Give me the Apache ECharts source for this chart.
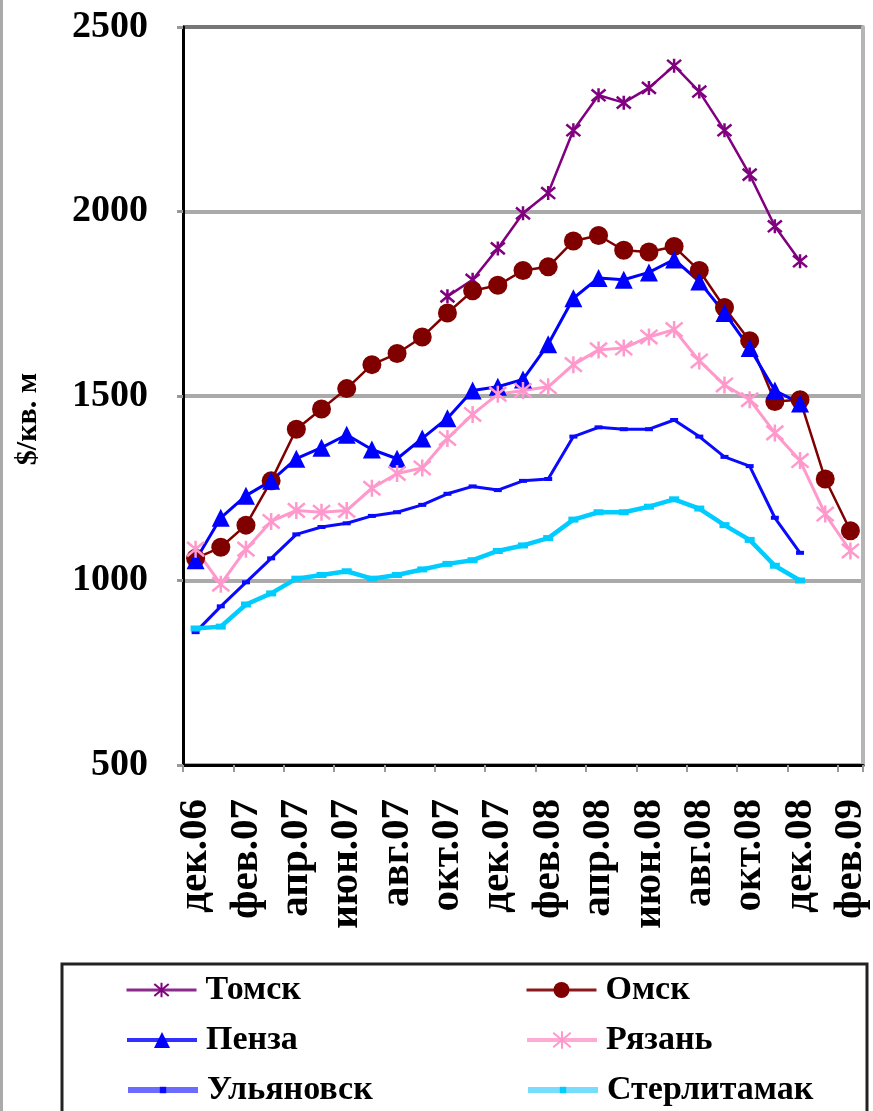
<!DOCTYPE html>
<html>
<head>
<meta charset="utf-8">
<script src="https://cdn.jsdelivr.net/npm/echarts@6/dist/echarts.min.js"></script>
<style>
html,body{margin:0;padding:0;background:#fff;}
#chart{width:873px;height:1111px;}
</style>
</head>
<body>
<div id="chart"></div>
<script>
const categories = ['дек.06','янв.07','фев.07','мар.07','апр.07','май.07','июн.07','июл.07','авг.07','сен.07','окт.07','ноя.07','дек.07','янв.08','фев.08','мар.08','апр.08','май.08','июн.08','июл.08','авг.08','сен.08','окт.08','ноя.08','дек.08','янв.09','фев.09'];
const tomsk = [null,null,null,null,null,null,null,null,null,null,1770,1815,1900,1995,2050,2220,2315,2295,2335,2395,2325,2220,2100,1960,1865,null,null];
const omsk = [1060,1090,1150,1270,1410,1465,1520,1585,1615,1660,1725,1785,1800,1840,1850,1920,1935,1895,1890,1905,1840,1740,1650,1485,1490,1275,1135];
const penza = [1055,1170,1230,1270,1330,1360,1395,1355,1330,1385,1440,1515,1525,1545,1640,1765,1820,1815,1835,1870,1810,1725,1630,1515,1480,null,null];
const ryazan = [1085,990,1085,1160,1190,1185,1190,1250,1290,1305,1385,1450,1505,1515,1525,1585,1625,1630,1660,1680,1595,1530,1490,1400,1325,1180,1080];
const ulyanovsk = [860,930,995,1060,1125,1145,1155,1175,1185,1205,1235,1255,1245,1270,1275,1390,1415,1410,1410,1435,1390,1335,1310,1170,1075,null,null];
const sterlitamak = [870,875,935,965,1005,1015,1025,1005,1015,1030,1045,1055,1080,1095,1115,1165,1185,1185,1200,1220,1195,1150,1110,1040,1000,null,null];
const seriesNames = ['Томск','Омск','Пенза','Рязань','Ульяновск','Стерлитамак'];
const yMin = 500, yMax = 2500, yStep = 500;
const yName = '$/кв. м';

const star = 'path://M0,0L10,10M10,0L0,10M5,-1L5,11';
const serif = 'Liberation Serif';

const chart = echarts.init(document.getElementById('chart'), null, {renderer:'canvas'});
const mk = (name, data, color, lw, symbol, size) => ({
  name, type:'line', data, connectNulls:false,
  symbol, symbolSize:size, showAllSymbol:true,
  lineStyle:{color, width:lw},
  itemStyle:{color, borderColor:color, borderWidth: symbol===star?2.5:0},
  emphasis:{disabled:true}, animation:false
});
const legendText = {fontFamily:serif, fontWeight:'bold', fontSize:34, lineHeight:34, color:'#000', padding:[0,0,0,4]};
const legendColumns = [125, 525];
const legendRows = [973, 1023, 1073];
const legendIconH = [18, 20, 20, 22, 8, 8];
const legendLines = [
  {color:'#8a2a8a', width:3}, {color:'#8a1a1a', width:3}, {color:'#3030ff', width:4},
  {color:'#ffaad4', width:4}, {color:'#6b6bff', width:6}, {color:'#77ddff', width:6}
];
const legends = seriesNames.map((n, k) => ({
  data:[n], orient:'horizontal', left:legendColumns[k % 2], top:legendRows[Math.floor(k / 2)],
  padding:0, itemWidth:70, itemHeight:legendIconH[k], textStyle:legendText,
  lineStyle:legendLines[k]
}));

chart.setOption({
  backgroundColor:'#fff',
  animation:false,
  grid:{left:183, right:10, top:27, bottom:346, containLabel:false},
  xAxis:{
    type:'category', data:categories, boundaryGap:true,
    axisLine:{lineStyle:{color:'#000', width:3}},
    axisTick:{show:true, interval:1, length:7, lineStyle:{color:'#999', width:2}},
    axisLabel:{interval:1, rotate:90, margin:34, color:'#000', fontFamily:serif, fontWeight:'bold', fontSize:41},
    splitLine:{show:false}
  },
  yAxis:[{
    type:'value', min:yMin, max:yMax, interval:yStep,
    name:yName, nameLocation:'middle', nameGap:140, nameRotate:90,
    nameTextStyle:{fontFamily:serif, fontWeight:'bold', fontSize:30, color:'#000', padding:[0,46,0,0]},
    axisLine:{show:true, lineStyle:{color:'#000', width:3}},
    axisTick:{show:true, length:6, lineStyle:{color:'#999', width:3}},
    axisLabel:{margin:35, color:'#000', fontFamily:serif, fontWeight:'bold', fontSize:38, formatter:(v)=>String(v)},
    splitLine:{show:true, lineStyle:{color:['#aaa','#aaa','#aaa','#aaa','#777'], width:4}}
  },{
    type:'value', min:yMin, max:yMax, interval:yStep, position:'right',
    axisLine:{show:true, lineStyle:{color:'#b5b5b5', width:4}},
    axisTick:{show:false}, axisLabel:{show:false}, splitLine:{show:false}
  }],
  legend:legends,
  graphic:[
    {type:'rect', left:0, top:0, shape:{width:3, height:1111}, style:{fill:'#aaa'}, silent:true},
    {type:'rect', shape:{x:62, y:964, width:805, height:160}, style:{fill:'none', stroke:'#222', lineWidth:3}, silent:true}
  ],
  series:[
    mk(seriesNames[0], tomsk, '#800080', 2.5, star, 14),
    mk(seriesNames[1], omsk, '#800000', 2.5, 'circle', 19),
    mk(seriesNames[2], penza, '#0000ff', 3, 'triangle', 18),
    mk(seriesNames[3], ryazan, '#ff99cc', 3, star, 17),
    mk(seriesNames[4], ulyanovsk, '#0a0aff', 3, 'rect', [8,4]),
    mk(seriesNames[5], sterlitamak, '#00ccff', 4.5, 'rect', [10,6])
  ]
});
</script>
</body>
</html>
